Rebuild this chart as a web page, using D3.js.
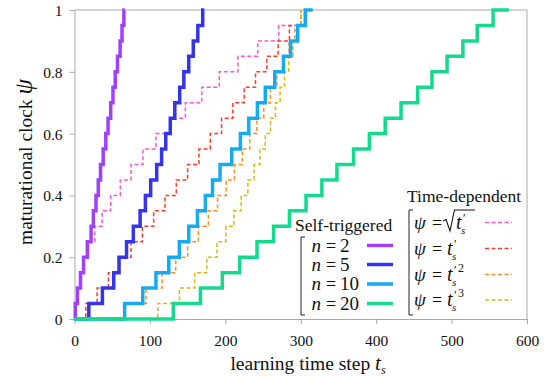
<!DOCTYPE html>
<html>
<head>
<meta charset="utf-8">
<script src="https://cdn.jsdelivr.net/npm/d3@7/dist/d3.min.js"></script>
<style>
body { margin: 0; background: #fff; }
svg text { font-family: "Liberation Serif", "Times New Roman", Times, "DejaVu Serif", serif; fill: #111; }
</style>
</head>
<body>
<div id="container"></div>
<script>

// clock levels (20 steps of 0.05)
var levels = [0.05, 0.1, 0.15, 0.2, 0.25, 0.3, 0.35, 0.4, 0.45, 0.5,
              0.55, 0.6, 0.65, 0.7, 0.75, 0.8, 0.85, 0.9, 0.95, 1];

// self-triggered: time step at which each level is reached, plus where the line stops
var n2Steps  = [1, 4, 8, 12, 17, 22, 25, 28.5, 31.5, 34.5, 38, 41.5, 44.5, 48, 51, 54, 57, 60.5, 63, 65.5];
var n5Steps  = [19, 37, 52, 59, 69, 78, 87, 94, 101, 109, 115.5, 121, 127, 133, 139.5, 145, 151.5, 157.5, 163.5, 170];
var n10Steps = [66.5, 90.5, 108, 125, 139, 151.5, 163, 173.5, 183, 193, 208.5, 220, 231, 242.5, 253, 265.5, 277, 286.5, 296, 306];
var n20Steps = [131, 167, 196, 219, 242, 264, 285, 307, 328, 348, 370, 391, 412, 433, 455, 474, 494, 515, 534, 555];
var selfEnds = [66.5, 172, 316, 576];

// time-dependent schedules
var sqrtSteps  = [0.75, 3, 6.75, 12, 18.75, 27, 36.75, 48, 60.75, 75, 90.75, 108, 126.75, 147, 168.75, 192, 216.75, 243, 270.75, 300];
var linSteps   = [15, 30, 45, 60, 75, 90, 105, 120, 135, 150, 165, 180, 195, 210, 225, 240, 255, 270, 285, 300];
var sqSteps    = [67.1, 94.9, 116.2, 134.2, 150, 164.3, 177.5, 189.7, 201.2, 212.1, 222.5, 232.4, 241.9, 251, 259.8, 268.3, 276.6, 284.6, 292.4, 300];
var cubeSteps  = [110.5, 139.2, 159.4, 175.4, 189, 200.8, 211.4, 221, 229.9, 238.1, 245.8, 253, 259.9, 266.4, 272.6, 278.5, 284.2, 289.7, 294.9, 300];
var timeEnd = 300;

var xTicks = [0, 100, 200, 300, 400, 500, 600];
var yTicks = [0, 0.2, 0.4, 0.6, 0.8, 1];

var selfLabels = ['2', '5', '10', '20'];
var selfColors = ['#a040ff', '#3434ee', '#18aaf0', '#16d98e'];
var timeColors = ['#ff55d2', '#ff3c22', '#ff8c22', '#d8b812'];

var serif = '"Liberation Serif", "Times New Roman", Times, "DejaVu Serif", serif';

function init() {
	var width = 546, height = 377;
	var svg = d3.select('#container').append('svg')
		.attr('width', width)
		.attr('height', height)
		.attr('font-family', serif);

	var x = d3.scaleLinear().domain([0, 600]).range([74.5, 527]);
	var y = d3.scaleLinear().domain([0, 1]).range([319, 10]);
	var grey = '#a8a8a8';

	// frame top + right
	svg.append('line').attr('x1', x(0)).attr('x2', x(600)).attr('y1', y(1)).attr('y2', y(1))
		.attr('stroke', grey).attr('stroke-width', 1);
	svg.append('line').attr('x1', x(600)).attr('x2', x(600)).attr('y1', y(0)).attr('y2', y(1))
		.attr('stroke', grey).attr('stroke-width', 1);

	var xAxis = svg.append('g')
		.attr('transform', 'translate(0,' + y(0) + ')')
		.call(d3.axisBottom(x).tickValues(xTicks).tickSize(5).tickSizeOuter(0).tickFormat(d => String(d)));
	xAxis.attr('font-family', serif).attr('font-size', 15.5);
	xAxis.selectAll('text').attr('y', 27).attr('dy', 0).style('fill', '#111');

	var yAxis = svg.append('g')
		.attr('transform', 'translate(' + x(0) + ',0)')
		.call(d3.axisLeft(y).tickValues(yTicks).tickSize(5).tickSizeOuter(0).tickFormat(d => String(d)));
	yAxis.attr('font-family', serif).attr('font-size', 15.5);
	yAxis.selectAll('text').attr('x', -12).attr('dy', '0.36em').style('fill', '#111');

	svg.selectAll('.domain, .tick line').attr('stroke', grey);

	// series
	function makePoints(steps, end) {
		var pts = [[0, 0]];
		steps.forEach((t, i) => { pts.push([t, levels[i]]); });
		pts.push([end, 1]);
		return pts;
	}
	var line = d3.line()
		.x(d => x(d[0]))
		.y(d => y(d[1]))
		.curve(d3.curveStepAfter);

	var timeSeries = [sqrtSteps, linSteps, sqSteps, cubeSteps];
	timeSeries.forEach((s, i) => {
		svg.append('path')
			.attr('d', line(makePoints(s, timeEnd)))
			.attr('fill', 'none')
			.attr('stroke', timeColors[i])
			.attr('stroke-width', 1.5)
			.attr('stroke-dasharray', '4,2.5');
	});

	var selfSeries = [n2Steps, n5Steps, n10Steps, n20Steps];
	selfSeries.forEach((s, i) => {
		svg.append('path')
			.attr('d', line(makePoints(s, selfEnds[i])))
			.attr('fill', 'none')
			.attr('stroke', selfColors[i])
			.attr('stroke-width', 3.5)
			.attr('stroke-linejoin', 'miter');
	});

	// axis titles
	var xt = svg.append('text')
		.attr('x', 308).attr('y', 370)
		.attr('text-anchor', 'middle')
		.style('font-size', '19.5px');
	xt.append('tspan').text('learning time step ');
	xt.append('tspan').style('font-style', 'italic').style('font-size', '21px').text('t');
	xt.append('tspan').attr('dy', 4).style('font-style', 'italic').style('font-size', '12px').text('s');

	var yt = svg.append('text')
		.attr('transform', 'translate(32,162) rotate(-90)')
		.attr('text-anchor', 'middle')
		.style('font-size', '19.5px');
	yt.append('tspan').text('maturational clock ');
	yt.append('tspan').style('font-style', 'italic').style('font-size', '25px').text('ψ');

	// legend: self-triggered
	var fs = '17.5px';
	svg.append('text').attr('x', 295).attr('y', 231).style('font-size', fs).text('Self-triggered');
	svg.append('path')
		.attr('d', 'M305,237 L301,237 L301,315 L305,315')
		.attr('fill', 'none').attr('stroke', '#222').attr('stroke-width', 1);
	var selfY = [245.5, 264.5, 284, 303.5];
	selfLabels.forEach((lab, i) => {
		var ty = selfY[i] + 6;
		svg.append('text').attr('x', 311.5).attr('y', ty).style('font-size', '19px').style('font-style', 'italic').text('n');
		svg.append('text').attr('x', 326).attr('y', ty).style('font-size', '18px').text('=');
		svg.append('text').attr('x', 340).attr('y', ty).style('font-size', '19px').text(lab);
		svg.append('line')
			.attr('x1', 367).attr('x2', 393).attr('y1', selfY[i]).attr('y2', selfY[i])
			.attr('stroke', selfColors[i]).attr('stroke-width', 3.5);
	});

	// legend: time-dependent
	svg.append('text').attr('x', 407).attr('y', 202).style('font-size', fs).text('Time-dependent');
	svg.append('path')
		.attr('d', 'M413,210 L409,210 L409,315 L413,315')
		.attr('fill', 'none').attr('stroke', '#222').attr('stroke-width', 1);
	var timeY = [222.5, 248.5, 274.5, 300];
	var powers = ['', '', '2', '3'];
	timeY.forEach((ly, i) => {
		var ty = ly + 6;
		svg.append('text').attr('x', 414).attr('y', ty).style('font-size', '19px').style('font-style', 'italic').text('ψ');
		svg.append('text').attr('x', 432).attr('y', ty).style('font-size', '18px').text('=');
		var tx = 447;
		if (i === 0) {
			// radical sign
			svg.append('path')
				.attr('d', 'M443,221 L446,219.5 L450,231 L454.5,210 L475,210')
				.attr('fill', 'none').attr('stroke', '#111').attr('stroke-width', 1.1);
			tx = 456;
		}
		svg.append('text').attr('x', tx).attr('y', ty).style('font-size', '20px').style('font-style', 'italic').text('t');
		svg.append('text').attr('x', tx + 7).attr('y', ty - 7).style('font-size', '12px').text('′');
		svg.append('text').attr('x', tx + 5).attr('y', ty + 5).style('font-size', '11px').style('font-style', 'italic').text('s');
		if (powers[i]) {
			svg.append('text').attr('x', tx + 11).attr('y', ty - 9).style('font-size', '12px').text(powers[i]);
		}
		svg.append('line')
			.attr('x1', 485).attr('x2', 512).attr('y1', ly).attr('y2', ly)
			.attr('stroke', timeColors[i]).attr('stroke-width', 1.5)
			.attr('stroke-dasharray', '4,2.5');
	});
}

init();
</script>
</body>
</html>
